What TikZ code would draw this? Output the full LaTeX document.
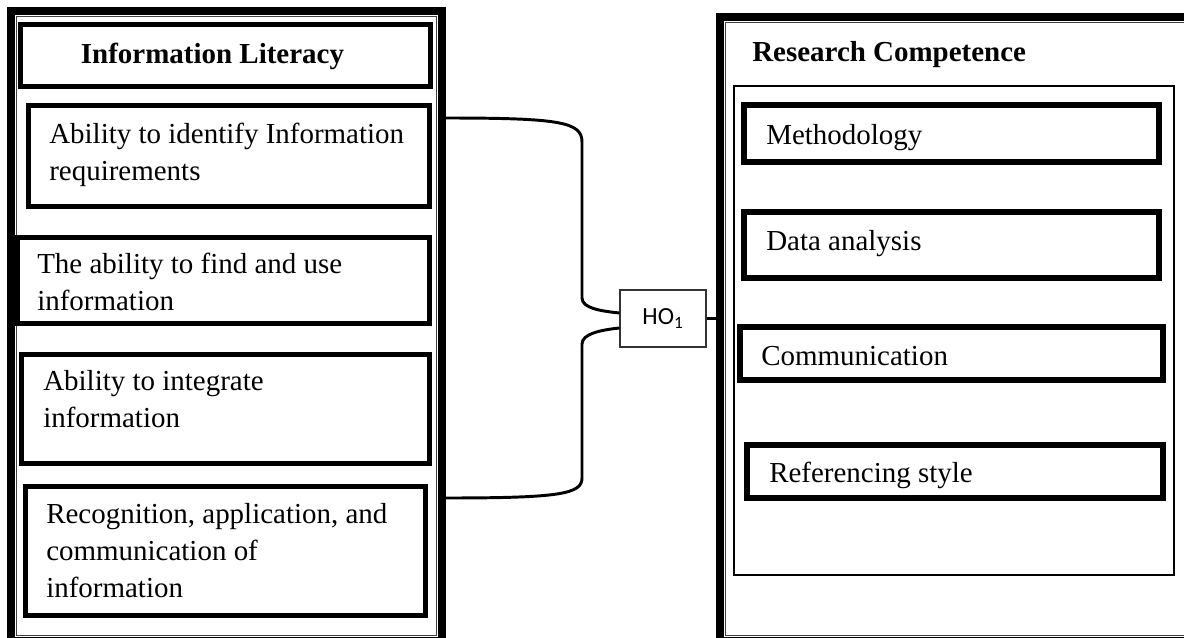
\documentclass[tikz,border=0pt]{standalone}
\usepackage{fontspec}
\setmainfont{Liberation Serif}
\newfontfamily\calibrifont{Carlito}
\usepackage{tikz}
\usetikzlibrary{positioning,calc}

\begin{document}
\begin{tikzpicture}[
    x=0.025cm, y=-0.025cm,
    frame/.style={rectangle, draw, line width=5.7pt, inner sep=0pt},
    thinframe/.style={rectangle, draw=black!75, line width=0.6pt, inner sep=0pt},
    litbox/.style={rectangle, draw, line width=3.4pt, inner sep=0pt},
    rcbox/.style={rectangle, draw, line width=4.2pt, inner sep=0pt},
    boxtext/.style={anchor=base west, inner sep=0pt, align=left, font=\fontsize{20.6pt}{26.3pt}\selectfont},
    hobox/.style={rectangle, draw=black!80, line width=0.8pt, minimum width=2.15cm, minimum height=1.425cm, font=\calibrifont\fontsize{17.5pt}{20pt}\selectfont},
    link/.style={line width=2.1pt}
]
\useasboundingbox (0,0) rectangle (1184,638);
\clip (0,0) rectangle (1184,638);

% Information literacy side (text nodes sit on their last baseline)
\node[frame, minimum width=10.775cm, minimum height=15.75cm] (lit) at (226.5,326) {};
\node[thinframe, minimum width=10.5cm, minimum height=15.475cm] (litin) at (226.5,326) {};
\node[litbox, line width=3.6pt, minimum width=10.25cm, minimum height=1.55cm] (littitle) at (225.5,55.5) {};
\node[boxtext, anchor=base, font=\fontsize{20.6pt}{26.3pt}\selectfont\bfseries] (littext) at (212.5,63) {Information Literacy};

\node[litbox, minimum width=10.025cm, minimum height=2.525cm] (identify) at (229,156) {};
\node[boxtext] (identifytext) at (49,180) {Ability to identify Information\\requirements};
\node[litbox, minimum width=10.3cm, minimum height=2.15cm] (finduse) at (223.5,280.5) {};
\node[boxtext] (findusetext) at (37,310) {The ability to find and use\\information};
\node[litbox, minimum width=10.2cm, minimum height=2.725cm] (integrate) at (225.5,409) {};
\node[boxtext] (integratetext) at (43,427) {Ability to integrate\\information};
\node[litbox, minimum width=10cm, minimum height=3.225cm] (recognise) at (225.5,551) {};
\node[boxtext] (recognisetext) at (46,597) {Recognition, application, and\\communication of\\information};

% Research competence side
\node[frame, minimum width=11.8cm, minimum height=15.5875cm] (rc) at (956,329.25) {};
\node[thinframe, minimum width=11.6625cm, minimum height=15.325cm] (rcin) at (958.75,329) {};
\node[boxtext, font=\fontsize{20.6pt}{26.3pt}\selectfont\bfseries] (rctext) at (752,61) {Research Competence};
\node[rectangle, draw, line width=1.8pt, minimum width=11cm, minimum height=12.225cm] (rcinner) at (954,330.5) {};

\node[rcbox, minimum width=10.375cm, minimum height=1.425cm] (method) at (951.5,133.5) {};
\node[boxtext] (methodtext) at (766,144) {Methodology};
\node[rcbox, minimum width=10.375cm, minimum height=1.65cm] (analysis) at (951.5,245) {};
\node[boxtext] (analysistext) at (766,250) {Data analysis};
\node[rcbox, minimum width=10.575cm, minimum height=1.325cm] (comm) at (951.5,353.5) {};
\node[boxtext] (commtext) at (761,365) {Communication};
\node[rcbox, minimum width=10.4cm, minimum height=1.325cm] (refstyle) at (955,471.5) {};
\node[boxtext] (refstyletext) at (769,482) {Referencing style};

% Hypothesis
\node[hobox] (ho) at (663,318.5) {HO\textsubscript{1}};

\draw[link] (lit.east |- 0,118) .. controls (560,118) and (582,122) .. (582,142)
    -- (582,298) .. controls (582,308) and (600,311) .. ($(ho.west)+(0,-5.5)$);
\draw[link] ($(ho.west)+(0,9.5)$) .. controls (600,330) and (582,334) .. (582,344)
    -- (582,478) .. controls (582,494) and (560,498) .. (lit.east |- 0,498);
\draw[link] (ho.east) -- (ho.east -| rc.west);

\end{tikzpicture}
\end{document}
